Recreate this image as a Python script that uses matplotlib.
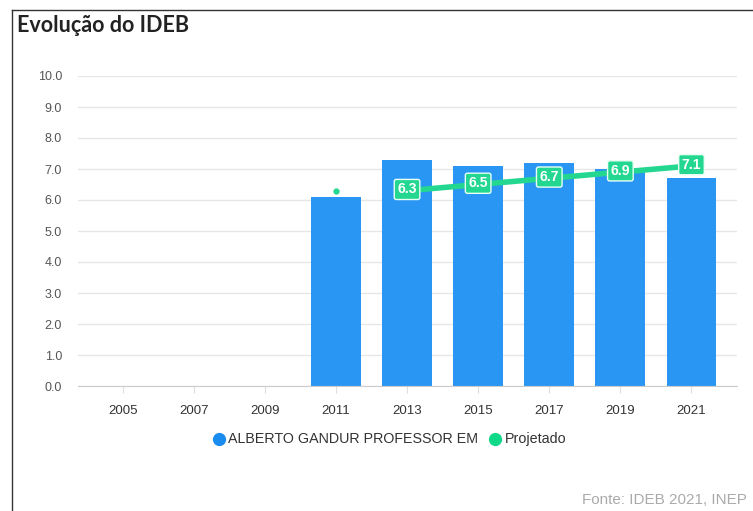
import numpy as np
import matplotlib
matplotlib.use("Agg")
import matplotlib.pyplot as plt
from matplotlib.lines import Line2D

anos = ["2005", "2007", "2009", "2011", "2013", "2015", "2017", "2019", "2021"]
ideb_escola = [np.nan, np.nan, np.nan, 6.1, 7.3, 7.1, 7.2, 7.0, 6.7]
projetado = [np.nan, np.nan, np.nan, 6.3, 6.3, 6.5, 6.7, 6.9, 7.1]
y_ticks = [0, 1, 2, 3, 4, 5, 6, 7, 8, 9, 10]

azul = "#2a96f4"
verde = "#23d791"

plt.rcParams["font.family"] = ["Liberation Sans", "DejaVu Sans"]

fig = plt.figure(figsize=(7.53, 5.11), dpi=100)
W, H = 753, 511
ax = fig.add_axes([78 / W, (H - 386) / H, (737 - 78) / W, (386 - 76) / H])

x = np.arange(len(anos))
ax.bar(x, ideb_escola, width=0.70, color=azul, zorder=2)

# projeção: ponto isolado em 2011, linha de 2013 em diante
proj = np.array(projetado, dtype=float)
ax.plot(x[3:4], proj[3:4], "o", color=verde, ms=3.5, zorder=3)
ax.plot(x[4:], proj[4:], "-", color=verde, lw=4, zorder=3, solid_capstyle="round")
for xi, v in zip(x[4:], proj[4:]):
    ax.text(xi, v + 0.04, f"{v:.1f}", ha="center", va="center", color="white",
            fontsize=10, fontweight="bold", zorder=4,
            bbox=dict(boxstyle="round,pad=0.22,rounding_size=0.15", fc=verde,
                      ec="#e8fff4", lw=1))

ax.set_xlim(-0.627, 8.64)
ax.set_ylim(0, 10)
ax.set_yticks(y_ticks)
ax.set_yticklabels([f"{t:.1f}" for t in y_ticks])
ax.set_xticks(x)
ax.set_xticklabels(anos)
ax.grid(axis="y", color="#e6e6e6", lw=1, zorder=0)
ax.set_axisbelow(True)
for s in ["top", "right", "left"]:
    ax.spines[s].set_visible(False)
ax.spines["bottom"].set_color("#cccccc")
ax.tick_params(axis="y", length=0, pad=11.5, labelsize=9, labelcolor="#555555")
ax.tick_params(axis="x", length=5, color="#dddddd", pad=9, labelsize=9.5,
               labelcolor="#333333")

# título e legenda
fig.text(17 / W, 1 - 26 / H, "Evolução do IDEB", fontsize=15.5, fontweight="bold",
         color="#222222", va="center", ha="left", family=["Lato", "DejaVu Sans"])
ly = 1 - 439 / H
fig.add_artist(Line2D([219 / W], [ly], marker="o", ms=8.5, color="#1a8cf0",
                      ls="none", transform=fig.transFigure))
fig.text(228 / W, ly, "ALBERTO GANDUR PROFESSOR EM", fontsize=10.3, color="#333333",
         va="center", ha="left")
fig.add_artist(Line2D([495 / W], [ly], marker="o", ms=8.5, color="#10d889",
                      ls="none", transform=fig.transFigure))
fig.text(505 / W, ly, "Projetado", fontsize=10.3, color="#333333", va="center", ha="left")

fig.text(582 / W, 1 - 500 / H, "Fonte: IDEB 2021, INEP", fontsize=11, color="#aaaaaa",
         va="center", ha="left")

# moldura
fig.add_artist(Line2D([12 / W, 12 / W], [0, 1 - 10 / H], color="#333333", lw=1,
                      transform=fig.transFigure))
fig.add_artist(Line2D([12 / W, 1], [1 - 10 / H, 1 - 10 / H], color="#333333", lw=1,
                      transform=fig.transFigure))

fig.savefig("out.png", dpi=100)
